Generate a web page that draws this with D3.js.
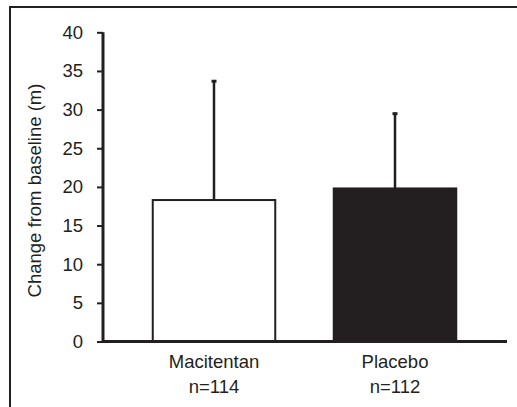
<!DOCTYPE html>
<html>
<head>
<meta charset="utf-8">
<script src="https://cdn.jsdelivr.net/npm/d3@7"></script>
<style>
  html, body { margin: 0; padding: 0; background: #fff; }
  svg { display: block; }
  text { font-family: "Liberation Sans", Arial, sans-serif; fill: #231f20; }
</style>
</head>
<body>
<svg id="chart" width="517" height="407"></svg>
<script>
const categories = ["Macitentan", "Placebo"];
const sampleSizes = ["n=114", "n=112"];
const means = [18.3, 19.8];
const errorTops = [33.8, 29.6];
const fills = ["#ffffff", "#231f20"];
const yTicks = [0, 5, 10, 15, 20, 25, 30, 35, 40];

const ink = "#231f20";
const svg = d3.select("#chart");

// outer frame (cropped at right and bottom)
svg.append("rect")
  .attr("x", 10).attr("y", 7)
  .attr("width", 520).attr("height", 420)
  .attr("fill", "none").attr("stroke", ink).attr("stroke-width", 2);

const axisX = 103, axisRight = 507;
const y = d3.scaleLinear().domain([0, 40]).range([341.5, 32.3]);
const x = d3.scaleBand().domain(categories)
  .range([123.5, 485.5])
  .paddingInner(0.3232).paddingOuter(0.1616);

// bars
const data = categories.map((c, i) => ({ c, n: sampleSizes[i], m: means[i], e: errorTops[i], f: fills[i] }));

// error bars (upper only)
const eg = svg.append("g");
eg.selectAll("line.err").data(data).join("line")
  .attr("class", "err")
  .attr("x1", d => x(d.c) + x.bandwidth() / 2)
  .attr("x2", d => x(d.c) + x.bandwidth() / 2)
  .attr("y1", d => y(d.m))
  .attr("y2", d => y(d.e))
  .attr("stroke", ink).attr("stroke-width", 2.5);
eg.selectAll("line.cap").data(data).join("line")
  .attr("class", "cap")
  .attr("x1", d => x(d.c) + x.bandwidth() / 2 - 2.5)
  .attr("x2", d => x(d.c) + x.bandwidth() / 2 + 2.5)
  .attr("y1", d => y(d.e) + 1)
  .attr("y2", d => y(d.e) + 1)
  .attr("stroke", ink).attr("stroke-width", 3);

svg.append("g").selectAll("rect").data(data).join("rect")
  .attr("x", d => x(d.c))
  .attr("y", d => y(d.m))
  .attr("width", x.bandwidth())
  .attr("height", d => y(0) - y(d.m))
  .attr("fill", d => d.f)
  .attr("stroke", ink).attr("stroke-width", 2);

// y axis
const yAxis = d3.axisLeft(y).tickValues(yTicks).tickSize(6).tickSizeOuter(0).tickPadding(14);
const ya = svg.append("g").attr("transform", `translate(${axisX},0)`).call(yAxis);
ya.select(".domain").remove();
ya.selectAll(".tick line").attr("stroke", ink).attr("stroke-width", 2);
ya.selectAll(".tick text")
  .attr("font-size", "18.5px")
  .attr("font-family", "Liberation Sans, Arial, sans-serif")
  .attr("fill", ink);
svg.append("line")
  .attr("x1", axisX).attr("x2", axisX)
  .attr("y1", y(40)).attr("y2", y(0) + 1.5)
  .attr("stroke", ink).attr("stroke-width", 3);

// x axis line
svg.append("line")
  .attr("x1", axisX).attr("x2", axisRight)
  .attr("y1", y(0)).attr("y2", y(0))
  .attr("stroke", ink).attr("stroke-width", 3);

// category labels
const lg = svg.append("g");
lg.selectAll("text.cat").data(data).join("text")
  .attr("class", "cat")
  .attr("x", d => x(d.c) + x.bandwidth() / 2)
  .attr("y", 368)
  .attr("text-anchor", "middle")
  .attr("font-size", "18.5px")
  .text(d => d.c);
lg.selectAll("text.n").data(data).join("text")
  .attr("class", "n")
  .attr("x", d => x(d.c) + x.bandwidth() / 2)
  .attr("y", 393)
  .attr("text-anchor", "middle")
  .attr("font-size", "18.5px")
  .text(d => d.n);

// y title
svg.append("text")
  .attr("transform", "translate(41,190.5) rotate(-90)")
  .attr("text-anchor", "middle")
  .attr("font-size", "18.5px")
  .text("Change from baseline (m)");
</script>
</body>
</html>
